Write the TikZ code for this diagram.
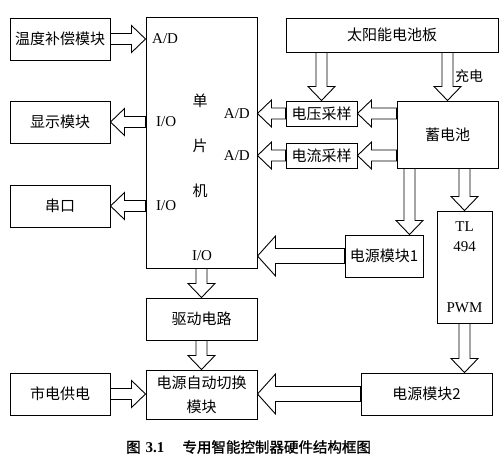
\documentclass[tikz,border=0pt]{standalone}
\usepackage{fontspec}
\setmainfont{Liberation Serif}
\newfontfamily\cjk{Noto Sans CJK SC}
\newfontfamily\cjkb[FakeBold=1.2]{Noto Sans CJK SC}
\usetikzlibrary{calc,positioning}

% hollow block arrow sizes (shaft half width, head half width, head length)
\newcommand\shaft{5.5}
\newcommand\head{13.5}
\newcommand\hlen{14}

\tikzset{
  box/.style={draw, line width=1pt, inner sep=0pt, font=\cjk\fontsize{15}{18}\selectfont},
  lbl/.style={inner sep=0pt, font=\fontsize{15}{18}\selectfont},
  big/.code={\def\shaft{7.5}\def\head{20}\def\hlen{18}},
  fat/.style={draw, line width=0.9pt, fill=white, to path={
    let \p1=(\tikztostart), \p2=(\tikztotarget),
        \n2={veclen(\x2-\x1,\y2-\y1)}, \n3={(\x2-\x1)/\n2},
        \n4={(\y2-\y1)/\n2}, \n5={\n2-\hlen} in
    ({\x1-\shaft*\n4},{\y1+\shaft*\n3})
    -- ({\x1+\n5*\n3-\shaft*\n4},{\y1+\n5*\n4+\shaft*\n3})
    -- ({\x1+\n5*\n3-\head*\n4},{\y1+\n5*\n4+\head*\n3})
    -- (\p2)
    -- ({\x1+\n5*\n3+\head*\n4},{\y1+\n5*\n4-\head*\n3})
    -- ({\x1+\n5*\n3+\shaft*\n4},{\y1+\n5*\n4-\shaft*\n3})
    -- ({\x1+\shaft*\n4},{\y1-\shaft*\n3}) -- cycle}},
}

\begin{document}
\begin{tikzpicture}[x=1pt,y=-1pt]
  \useasboundingbox (0,0) rectangle (500,461);

  % left column
  \node[box, minimum width=100pt, minimum height=42pt] (temp) at (60,39)  {温度补偿模块};
  \node[box, minimum width=100pt, minimum height=42pt] (disp) at (60,122) {显示模块};
  \node[box, minimum width=100pt, minimum height=42pt] (uart) at (60,206) {串口};
  \node[box, minimum width=100pt, minimum height=42pt] (grid) at (60,394) {市电供电};

  % controller and switching
  \node[box, minimum width=111pt, minimum height=251pt] (mcu) at (201.5,142.5) {};
  \node[box, minimum width=111pt, minimum height=42pt]  (drv) at (201.5,319) {驱动电路};
  \node[box, minimum width=111pt, minimum height=49pt, align=center,
        font=\cjk\fontsize{15}{24}\selectfont] (sw) at (201.5,394.5) {电源自动切换\\模块};

  \node[font=\cjk\fontsize{15}{45}\selectfont, align=center, inner sep=0pt] (mcutxt) at (200,146) {单\\片\\机};
  \node[lbl, anchor=west] (adt)  at (152,39)  {A/D};
  \node[lbl, anchor=west] (iod)  at (156,122) {I/O};
  \node[lbl, anchor=west] (iou)  at (156,206) {I/O};
  \node[lbl, anchor=east] (adv)  at (250,114) {A/D};
  \node[lbl, anchor=east] (adi)  at (250,155.5) {A/D};
  \node[lbl] (iob) at (202,256) {I/O};

  % right side
  \node[box, minimum width=212pt, minimum height=34pt] (panel) at (392,35)  {太阳能电池板};
  \node[box, minimum width=71pt,  minimum height=25pt] (vsamp) at (321.5,113.5) {电压采样};
  \node[box, minimum width=71pt,  minimum height=25pt] (isamp) at (321.5,155.5) {电流采样};
  \node[box, minimum width=101pt, minimum height=67pt] (batt)  at (447.5,134.5) {蓄电池};
  \node[box, minimum width=78pt,  minimum height=42pt] (pm1)   at (384,256)  {电源模块1};
  \node[box, minimum width=55pt,  minimum height=112pt] (tl)   at (464.5,267) {};
  \node[box, minimum width=131pt, minimum height=42pt] (pm2)   at (426.5,394) {电源模块2};

  \node[lbl] (tltxt) at (464.5,227) {TL};
  \node[lbl] (tlnum) at (464.5,247) {494};
  \node[lbl] (pwm)   at (464.5,308) {PWM};
  \node[font=\cjk\fontsize{14}{17}\selectfont, inner sep=0pt, anchor=west] (chg) at (455,76) {充电};

  \coordinate (b1) at ([xshift=13pt]batt.south west);

  % block arrows
  \draw[fat] (temp.east) to (temp.east -| mcu.west);
  \draw[fat] (disp.east -| mcu.west) to (disp.east);
  \draw[fat] (uart.east -| mcu.west) to (uart.east);
  \draw[fat] (grid.east) to (grid.east -| sw.west);
  \draw[fat] (mcu.south) to (drv.north);
  \draw[fat] (drv.south) to (sw.north);

  \draw[fat] (panel.south -| vsamp.north) to (vsamp.north);
  \draw[fat] (panel.south -| batt.north) to (batt.north);
  \draw[fat] (vsamp.east -| batt.west) to (vsamp.east);
  \draw[fat] (isamp.east -| batt.west) to (isamp.east);
  \draw[fat] (vsamp.west) to (vsamp.west -| mcu.east);
  \draw[fat] (isamp.west) to (isamp.west -| mcu.east);
  \draw[fat] (b1) to (b1 |- pm1.north);
  \draw[fat] (batt.south -| tl.north) to (tl.north);
  \draw[fat] (tl.south) to (tl.south |- pm2.north);
  \draw[fat, big] (pm1.west) to (pm1.west -| mcu.east);
  \draw[fat, big] (pm2.west) to (pm2.west -| sw.east);

  % caption
  \node[inner sep=0pt, anchor=west] (cap) at (126,447)
    {{\cjkb\fontsize{14.5}{17}\selectfont 图}\hspace{5pt}{\bfseries\fontsize{15}{17}\selectfont 3.1}\hspace{18pt}{\cjkb\fontsize{14.5}{17}\selectfont 专用智能控制器硬件结构框图}};
\end{tikzpicture}
\end{document}
